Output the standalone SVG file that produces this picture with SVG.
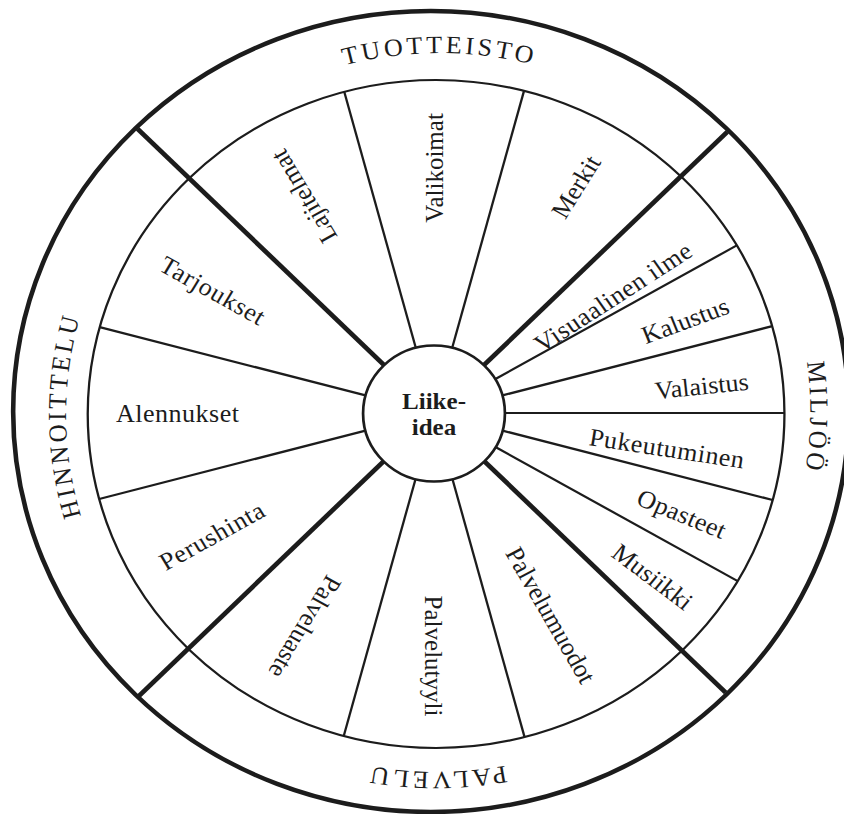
<svg xmlns="http://www.w3.org/2000/svg" width="844" height="814" viewBox="0 0 844 814">
<style>
.ln{stroke:#1c1c1c;fill:none;stroke-linecap:butt}
.thin{stroke-width:2.2}
.thick{stroke-width:4.6}
.lbl{font-family:"Liberation Serif","Times New Roman",serif;font-size:25px;fill:#1c1c1c;text-anchor:middle}
.ring{font-family:"Liberation Serif","Times New Roman",serif;font-size:25px;letter-spacing:3.2px;fill:#1c1c1c;text-anchor:middle}
.core{font-family:"Liberation Serif","Times New Roman",serif;font-size:24px;font-weight:bold;fill:#1c1c1c;text-anchor:middle}
</style>
<defs>
<path id="ringpath" d="M255.0,252.3 A355,357.5 0 1,1 -247.0,-253.3 A355,357.5 0 1,1 255.0,252.3"/>
</defs>
<rect width="844" height="814" fill="#ffffff"/>
<g transform="translate(434,413) scale(1.043,1)">
  <g id="rings">
    <circle cx="-3" cy="-1.5" r="400.5" class="ln" stroke="#2e2e2e" stroke-width="4.4"/>
    <circle cx="2" cy="1" r="334" class="ln thin"/>
  </g>
  <g id="connectors">
    <line class="ln thick" x1="-48.08" y1="-48.08" x2="-284.2" y2="-284.2"/>
    <line class="ln thick" x1="48.08" y1="-48.08" x2="281.2" y2="-281.2"/>
    <line class="ln thick" x1="-48.08" y1="48.08" x2="-282.8" y2="282.8"/>
    <line class="ln thick" x1="48.08" y1="48.08" x2="279.7" y2="279.7"/>
    <line class="ln thin" x1="-17.60" y1="-65.68" x2="-86.05" y2="-321.2"/>
    <line class="ln thin" x1="17.60" y1="-65.68" x2="86.31" y2="-322.1"/>
    <line class="ln thin" x1="-65.68" y1="-17.60" x2="-320.5" y2="-85.87"/>
    <line class="ln thin" x1="-65.68" y1="17.60" x2="-321.0" y2="86.0"/>
    <line class="ln thin" x1="-17.60" y1="65.68" x2="-86.54" y2="323.0"/>
    <line class="ln thin" x1="17.60" y1="65.68" x2="86.83" y2="324.1"/>
    <line class="ln thin" x1="58.89" y1="-34" x2="290.3" y2="-167.6"/>
    <line class="ln thin" x1="65.68" y1="-17.60" x2="324.3" y2="-86.88"/>
    <line class="ln thin" x1="68" y1="0" x2="336" y2="0"/>
    <line class="ln thin" x1="65.68" y1="17.60" x2="324.7" y2="87.0"/>
    <line class="ln thin" x1="58.89" y1="34" x2="291.2" y2="168.1"/>
  </g>
  <g id="liikeidea">
    <circle cx="0" cy="0.5" r="68" class="ln" stroke-width="2.6"/>
    <text class="core" x="0" y="-4">Liike-</text>
    <text class="core" x="0" y="22">idea</text>
  </g>
  <g id="tuotteisto">
    <text class="ring"><textPath href="#ringpath" startOffset="62.5%">TUOTTEISTO</textPath></text>
  </g>
  <g id="miljoo">
    <text class="ring"><textPath href="#ringpath" startOffset="87.7%">MILJÖÖ</textPath></text>
  </g>
  <g id="palvelu">
    <text class="ring"><textPath href="#ringpath" startOffset="12.5%">PALVELU</textPath></text>
  </g>
  <g id="hinnoittelu">
    <text class="ring"><textPath href="#ringpath" startOffset="37.35%">HINNOITTELU</textPath></text>
  </g>
  <g id="lajitelmat"><text class="lbl" dy="8.5" transform="rotate(-120) translate(250,0)">Lajitelmat</text></g>
  <g id="valikoimat"><text class="lbl" dy="8.5" transform="rotate(-90) translate(245,0)">Valikoimat</text></g>
  <g id="merkit"><text class="lbl" dy="8.5" transform="rotate(-59) translate(264,0)">Merkit</text></g>
  <g id="visuaalinen-ilme"><text class="lbl" dy="8.5" transform="rotate(-34) translate(207,0)" textLength="176" lengthAdjust="spacing">Visuaalinen ilme</text></g>
  <g id="kalustus"><text class="lbl" dy="8.5" transform="rotate(-21) translate(258,0)">Kalustus</text></g>
  <g id="valaistus"><text class="lbl" dy="8.5" transform="rotate(-6) translate(258,0)">Valaistus</text></g>
  <g id="pukeutuminen"><text class="lbl" dy="8.5" transform="rotate(9) translate(226,0)" textLength="150" lengthAdjust="spacing">Pukeutuminen</text></g>
  <g id="opasteet"><text class="lbl" dy="8.5" transform="rotate(23) translate(258,0)" textLength="90" lengthAdjust="spacing">Opasteet</text></g>
  <g id="musiikki"><text class="lbl" dy="8.5" transform="rotate(38) translate(266,0)">Musiikki</text></g>
  <g id="palvelumuodot"><text class="lbl" dy="8.5" transform="rotate(61) translate(231,0)">Palvelumuodot</text></g>
  <g id="palvelutyyli"><text class="lbl" dy="8.5" transform="rotate(90) translate(243,0)">Palvelutyyli</text></g>
  <g id="palveluaste"><text class="lbl" dy="8.5" transform="rotate(120) translate(247,0)">Palveluaste</text></g>
  <g id="perushinta"><text class="lbl" dy="8.5" transform="rotate(150) translate(246,0) rotate(180)" textLength="112" lengthAdjust="spacing">Perushinta</text></g>
  <g id="alennukset"><text class="lbl" dy="8.5" transform="rotate(180) translate(246,0) rotate(180)" textLength="118" lengthAdjust="spacing">Alennukset</text></g>
  <g id="tarjoukset"><text class="lbl" dy="8.5" transform="rotate(-150) translate(245,0) rotate(180)" textLength="112" lengthAdjust="spacing">Tarjoukset</text></g>
</g>
</svg>
